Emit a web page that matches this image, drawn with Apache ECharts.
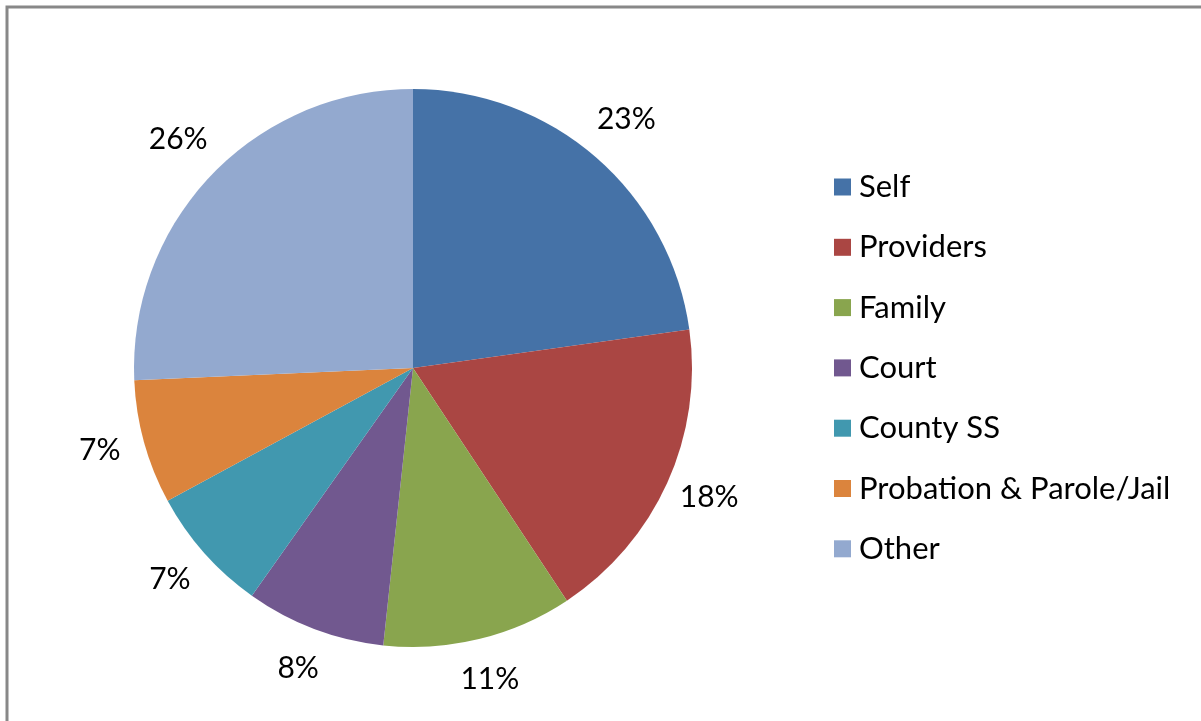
<!DOCTYPE html>
<html>
<head>
<meta charset="utf-8">
<script src="https://cdn.jsdelivr.net/npm/echarts@6/dist/echarts.min.js"></script>
<style>
  html, body { margin: 0; padding: 0; background: #fff; }
  #chart { width: 1201px; height: 721px; }
</style>
</head>
<body>
<div id="chart"></div>
<script>
const categories = ['Self', 'Providers', 'Family', 'Court', 'County SS', 'Probation & Parole/Jail', 'Other']
const shares = [22.8, 17.9, 11.0, 8.1, 7.3, 7.2, 25.7]
const colors = ['#4572A7', '#AA4643', '#89A54E', '#71588F', '#4198AF', '#DB843D', '#93A9CF']

const font = 'Lato'
const pieData = categories.map((name, i) => ({
  name,
  value: shares[i],
  itemStyle: { color: colors[i] },
}))

const chart = echarts.init(document.getElementById('chart'))

chart.setOption({
  backgroundColor: '#fff',
  animation: false,
  graphic: [{
    type: 'rect',
    shape: { x: 7, y: 7, width: 1400, height: 900 },
    style: { fill: 'none', stroke: '#888', lineWidth: 3 },
    silent: true,
  }],
  legend: {
    orient: 'vertical',
    left: 834,
    top: 171,
    padding: 0,
    icon: 'rect',
    itemWidth: 17,
    itemHeight: 17,
    itemGap: 28.3,
    data: categories,
    textStyle: {
      fontFamily: font,
      fontSize: 31,
      lineHeight: 32,
      color: '#000',
      padding: [0, 0, 0, 3],
    },
  },
  series: [
    {
      type: 'pie',
      center: [413, 368],
      radius: 279,
      startAngle: 90,
      clockwise: true,
      data: pieData,
      label: { show: false },
      labelLine: { show: false },
      emphasis: { disabled: true },
    },
    {
      // transparent ring used only to place the percentage labels
      type: 'pie',
      center: [413, 368],
      radius: [312, 332],
      startAngle: 90,
      clockwise: true,
      silent: true,
      data: categories.map((name, i) => ({ name, value: shares[i] })),
      itemStyle: { color: 'rgba(0,0,0,0)' },
      label: {
        show: true,
        position: 'inside',
        formatter: p => Math.round(p.value) + '%',
        fontFamily: font,
        fontSize: 30,
        color: '#000',
        offset: [0, -4],
      },
      labelLine: { show: false },
      emphasis: { disabled: true },
    },
  ],
})
</script>
</body>
</html>
